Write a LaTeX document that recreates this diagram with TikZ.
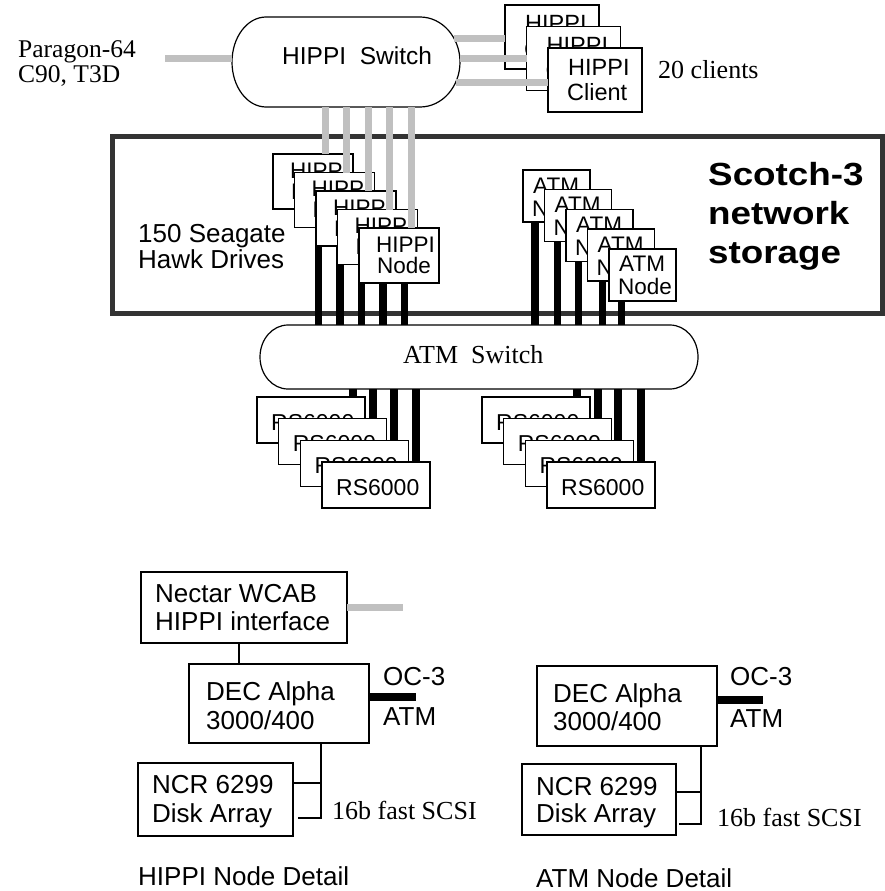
\documentclass[tikz,border=0pt]{standalone}
\usepackage{fontspec}
\setmainfont{Liberation Serif}
\setsansfont{Liberation Sans}
\usepackage{graphicx}
\definecolor{lgray}{HTML}{C0C0C0}
\definecolor{dframe}{HTML}{333333}
\tikzset{
  box/.style={draw, line width=1.4pt, fill=white, inner sep=0pt, outer sep=0pt, anchor=north west},
  sf/.style={font=\sffamily\fontsize{#1}{#1}\selectfont, inner sep=0pt, anchor=base west},
  rm/.style={font=\rmfamily\fontsize{#1}{#1}\selectfont, inner sep=0pt, anchor=base west},
  bigb/.style={font=\sffamily\bfseries\fontsize{32}{32}\selectfont, inner sep=0pt, anchor=base west},
  gl/.style={draw=lgray, line width=7pt},
  bl/.style={draw=black, line width=7.5pt},
  thinl/.style={draw=black, line width=2pt},
  swt/.style={draw=black, line width=1.2pt, fill=white},
}
\begin{document}
\begin{tikzpicture}[x=1pt,y=-1pt]
\useasboundingbox (0,0) rectangle (885,891);

% Scotch-3 frame
\node[draw=dframe, line width=5pt, minimum width=770pt, minimum height=177pt, inner sep=0pt, anchor=north west] (frame) at (110,134) {};

% HIPPI switch
\draw[swt] (266,17) -- (420,17) .. controls (442.1,17) and (460,37.2) .. (460,62) .. controls (460,86.8) and (442.1,107) .. (420,107) -- (266,107) .. controls (247.2,107) and (232,86.8) .. (232,62) .. controls (232,37.2) and (247.2,17) .. cycle;
\node[sf=24.5] (hst) at (282,65) {HIPPI~~Switch};
\coordinate (hsbot) at (0,107);
\coordinate (hsW) at (232,59);
\coordinate (hsR1) at (454,39);
\coordinate (hsR2) at (459.8,59);
\coordinate (hsR3) at (455.5,82);

% ATM switch
\draw[swt] (288,325) -- (670,325) .. controls (685.5,325) and (698,339.3) .. (698,357) .. controls (698,374.7) and (685.5,389) .. (670,389) -- (288,389) .. controls (272.5,389) and (260,374.7) .. (260,357) .. controls (260,339.3) and (272.5,325) .. cycle;
\node[rm=26] (ast) at (403,363) {ATM~~Switch};
\coordinate (asT) at (0,325);
\coordinate (asB) at (0,389);

% Paragon
\coordinate (pgE) at (165,59);
\draw[gl] (pgE) -- (hsW);
\node[rm=25.5] (pg1) at (18,58) {Paragon-64};
\node[rm=25.5] (pg2) at (18,82) {C90, T3D};

% HIPPI clients
\foreach \i/\lx/\ty in {1/505/5,2/526.5/26.5,3/548/48}{
  \node[box, minimum width=94pt, minimum height=64pt] (c\i) at (\lx,\ty) {};
  \node[sf=23.5] (ct\i) at ([shift={(20,27)}]c\i.north west) {HIPPI};
  \node[sf=23.5] (cc\i) at ([shift={(19,52)}]c\i.north west) {Client};
  \draw[gl] (hsR\i) -- (hsR\i -| c\i.west);
}
\node[rm=26] (cl) at (658,78) {20 clients};

% HIPPI nodes
\foreach \i in {1,...,5}{
  \pgfmathsetmacro\lx{273+21.5*(\i-1)}
  \pgfmathsetmacro\ty{154+18.5*(\i-1)}
  \node[box, minimum width=80pt, minimum height=55pt] (hn\i) at (\lx,\ty) {};
  \node[sf=22.5] (hnt\i) at ([shift={(17,24)}]hn\i.north west) {HIPPI};
  \node[sf=22.5] (hnn\i) at ([shift={(18,45)}]hn\i.north west) {Node};
  \coordinate (hg\i) at ([xshift=52pt]hn\i.north west);
  \coordinate (hb\i) at ([xshift=45.5pt]hn\i.south west);
  \draw[gl] (hg\i) -- (hg\i |- hsbot);
  \draw[bl] (hb\i) -- (hb\i |- asT);
}

% ATM nodes
\foreach \i/\off in {1/12,2/13.2,3/12.3,4/15.2,5/12.7}{
  \pgfmathsetmacro\lx{523+21.5*(\i-1)}
  \pgfmathsetmacro\ty{170+19.7*(\i-1)}
  \node[box, minimum width=67pt, minimum height=52pt] (an\i) at (\lx,\ty) {};
  \node[sf=22.5] (ant\i) at ([shift={(10,23)}]an\i.north west) {ATM};
  \node[sf=22.5] (ann\i) at ([shift={(9,46)}]an\i.north west) {Node};
  \coordinate (ab\i) at ([xshift=\off pt]an\i.south west);
  \draw[bl] (ab\i) -- (ab\i |- asT);
}

% Scotch text
\node[sf=26] (sg1) at (138,242) {150 Seagate};
\node[sf=26] (sg2) at (138,268) {Hawk Drives};
\node[bigb] (sc1) at (708,185) {\scalebox{1.15}[1]{Scotch-3}};
\node[bigb] (sc2) at (708,224) {\scalebox{1.15}[1]{network}};
\node[bigb] (sc3) at (708,263) {\scalebox{1.15}[1]{storage}};

% RS6000 groups
\foreach \g/\gx in {l/257,r/482}{
  \foreach \i in {1,...,4}{
    \pgfmathsetmacro\lx{\gx+21.67*(\i-1)}
    \pgfmathsetmacro\ty{397+21.67*(\i-1)}
    \node[box, minimum width=108pt, minimum height=46pt] (r\g\i) at (\lx,\ty) {};
    \node[sf=23] (r\g t\i) at ([shift={(14,33)}]r\g\i.north west) {RS6000};
  }
}
\foreach \i/\x in {1/353,2/373,3/394,4/416}{
  \coordinate (rlc\i) at (\x,389);
  \draw[bl] (rlc\i) -- (rlc\i |- rl\i.north);
}
\foreach \i/\x in {1/577,2/598,3/618,4/641}{
  \coordinate (rrc\i) at (\x,389);
  \draw[bl] (rrc\i) -- (rrc\i |- rr\i.north);
}

% HIPPI node detail
\node[box, minimum width=206pt, minimum height=71pt] (nec) at (141,572) {};
\node[sf=26] (nec1) at (155,602) {Nectar WCAB};
\node[sf=26] (nec2) at (155,630) {HIPPI interface};
\coordinate (necg) at (403,607.5);
\draw[gl] (nec.east) -- (necg);
\node[box, minimum width=180pt, minimum height=79pt] (dec1) at (189,664) {};
\node[sf=26] (dec1a) at (206,700) {DEC Alpha};
\node[sf=26] (dec1b) at (206,729) {3000/400};
\coordinate (v1) at (239,0);
\draw[thinl] (v1 |- nec.south) -- (v1 |- dec1.north);
\coordinate (oc1) at (416,697);
\draw[bl, line width=8pt] (dec1.east |- oc1) -- (oc1);
\node[sf=26] (oc1a) at (383,685) {OC-3};
\node[sf=26] (oc1b) at (383,725) {ATM};
\node[box, minimum width=155pt, minimum height=73pt] (ncr1) at (138,763) {};
\node[sf=26] (ncr1a) at (152,793) {NCR 6299};
\node[sf=26] (ncr1b) at (152,822) {Disk Array};
\coordinate (s1b) at (321,817.5);
\coordinate (s1c) at (298,817.5);
\draw[thinl] (s1b |- dec1.south) -- (s1b) -- (s1c);
\draw[thinl] (ncr1.east |- 0,783) -- (s1b |- 0,783);
\node[rm=26] (scsi1) at (332,819) {16b fast SCSI};
\node[sf=26] (det1) at (138,885) {HIPPI Node Detail};

% ATM node detail
\node[box, minimum width=180pt, minimum height=80pt] (dec2) at (537,666) {};
\node[sf=26] (dec2a) at (553,702) {DEC Alpha};
\node[sf=26] (dec2b) at (553,730) {3000/400};
\coordinate (oc2) at (763,700);
\draw[bl, line width=8pt] (dec2.east |- oc2) -- (oc2);
\node[sf=26] (oc2a) at (730,685) {OC-3};
\node[sf=26] (oc2b) at (730,727) {ATM};
\node[box, minimum width=154pt, minimum height=71pt] (ncr2) at (522,764) {};
\node[sf=26] (ncr2a) at (536,795) {NCR 6299};
\node[sf=26] (ncr2b) at (536,822) {Disk Array};
\coordinate (s2b) at (701,824);
\coordinate (s2c) at (679,824);
\draw[thinl] (s2b |- dec2.south) -- (s2b) -- (s2c);
\draw[thinl] (ncr2.east |- 0,792) -- (s2b |- 0,792);
\node[rm=26] (scsi2) at (717,826) {16b fast SCSI};
\node[sf=26] (det2) at (536,887) {ATM Node Detail};
\end{tikzpicture}
\end{document}
